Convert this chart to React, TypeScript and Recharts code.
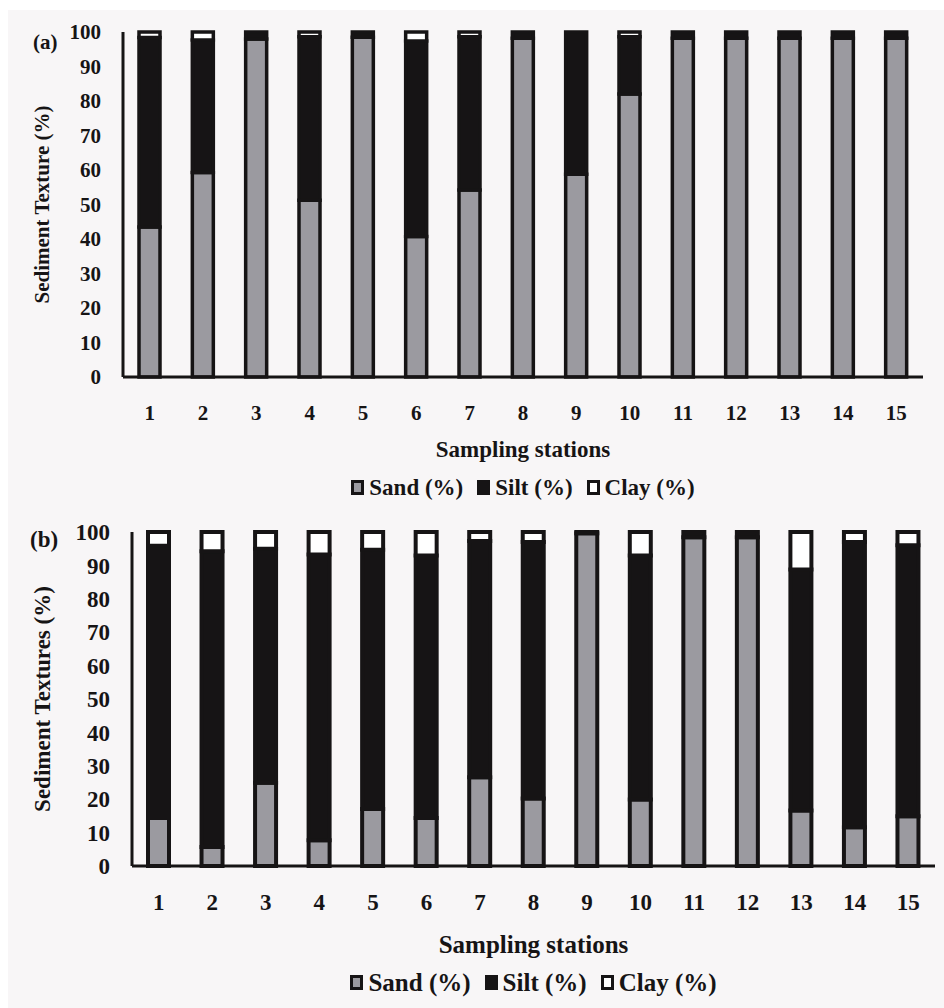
import React from 'react'
import { BarChart, Bar, XAxis, YAxis, Legend } from 'recharts'

const stations = ['1', '2', '3', '4', '5', '6', '7', '8', '9', '10', '11', '12', '13', '14', '15']
const yTicks = [0, 10, 20, 30, 40, 50, 60, 70, 80, 90, 100]

// panel (a)
const sandA = [43.5, 59.3, 98, 51.2, 98.5, 40.7, 54.2, 98.2, 58.8, 82, 98.2, 98.2, 98.2, 98.2, 98.2]
const siltA = [54.9, 38.4, 2, 47.4, 1.5, 56.7, 44.4, 1.8, 41.2, 16.6, 1.8, 1.8, 1.8, 1.8, 1.8]
const clayA = [1.6, 2.3, 0, 1.4, 0, 2.6, 1.4, 0, 0, 1.4, 0, 0, 0, 0, 0]

// panel (b)
const sandB = [14.4, 5.7, 24.9, 7.7, 17.1, 14.4, 26.6, 20.2, 99.6, 19.9, 98.4, 98.4, 16.6, 11.6, 14.9]
const siltB = [81.5, 88.5, 70.1, 85.6, 77.6, 78.6, 70.7, 76.8, 0.4, 73.1, 1.6, 1.6, 72.2, 85.4, 81.1]
const clayB = [4.1, 5.8, 5, 6.7, 5.3, 7, 2.7, 3, 0, 7, 0, 0, 11.2, 3, 4]

const SAND = '#9b9aa0'
const SILT = '#161415'
const CLAY = '#ffffff'
const INK = '#161415'
const BG = '#f8f6f7'
const FONT = '"Liberation Serif", "Times New Roman", serif'

const legendItems = [
  { name: 'Sand (%)', fill: SAND },
  { name: 'Silt (%)', fill: SILT },
  { name: 'Clay (%)', fill: CLAY },
]

function rows(sand: number[], silt: number[], clay: number[]) {
  return stations.map((s, i) => ({ station: s, sand: sand[i], silt: silt[i], clay: clay[i] }))
}

function TextureLegend({ fontSize }: { fontSize: number }) {
  return (
    <div
      style={{
        display: 'flex',
        justifyContent: 'center',
        alignItems: 'center',
        gap: 14,
        fontFamily: FONT,
        fontWeight: 700,
        fontSize,
        color: INK,
        lineHeight: 1,
      }}
    >
      {legendItems.map((it) => (
        <span key={it.name} style={{ display: 'inline-flex', alignItems: 'center', gap: 5 }}>
          <span
            style={{
              display: 'inline-block',
              boxSizing: 'border-box',
              width: 13,
              height: 15,
              border: `3px solid ${INK}`,
              background: it.fill,
            }}
          />
          {it.name}
        </span>
      ))}
    </div>
  )
}

function YTitle({ viewBox, value, titleX, fontSize }: any) {
  const cy = viewBox.y + viewBox.height / 2
  return (
    <text
      x={titleX}
      y={cy}
      transform={`rotate(-90, ${titleX}, ${cy})`}
      textAnchor="middle"
      dominantBaseline="central"
      fill={INK}
      fontFamily={FONT}
      fontWeight={700}
      fontSize={fontSize}
    >
      {value}
    </text>
  )
}

type PanelProps = {
  top: number
  height: number
  left: number
  right: number
  xAxisHeight: number
  tickSize: number
  titleSize: number
  tag: string
  tagTop: number
  tagLeft: number
  yTitle: string
  yTitleSize: number
  titleOffset: number
  legendTop: number
  strokeWidth: number
  data: { station: string; sand: number; silt: number; clay: number }[]
}

function Panel(p: PanelProps) {
  const tickStyle = { fill: INK, fontSize: p.tickSize, fontWeight: 700, fontFamily: FONT }
  const plotW = 944 - p.left - p.right
  return (
    <div style={{ position: 'absolute', top: p.top, left: 0, width: 944, height: p.height }}>
      <BarChart
        width={944}
        height={p.height}
        data={p.data}
        margin={{ top: 32, right: p.right, left: p.left - 80, bottom: 0 }}
        barCategoryGap={0}
      >
        <XAxis
          dataKey="station"
          height={p.xAxisHeight}
          axisLine={{ stroke: INK, strokeWidth: 3 }}
          tickLine={false}
          tickSize={6}
          tickMargin={22}
          tick={tickStyle}
          interval={0}
          label={{
            value: 'Sampling stations',
            position: 'insideTop',
            offset: p.titleOffset,
            fill: INK,
            fontSize: p.titleSize,
            fontWeight: 700,
            fontFamily: FONT,
          }}
        />
        <YAxis
          width={80}
          domain={[0, 100]}
          ticks={yTicks}
          interval={0}
          axisLine={{ stroke: INK, strokeWidth: 3 }}
          tickLine={false}
          tickSize={6}
          tickMargin={16}
          tick={tickStyle}
          label={<YTitle value={p.yTitle} titleX={42} fontSize={p.yTitleSize} />}
        />
        <Legend
          layout="horizontal"
          verticalAlign="middle"
          align="center"
          wrapperStyle={{ top: p.legendTop, left: p.left, width: plotW }}
          content={() => <TextureLegend fontSize={p.titleSize} />}
        />
        <Bar dataKey="sand" stackId="t" barSize={21} fill={SAND} stroke={INK} strokeWidth={p.strokeWidth} isAnimationActive={false} />
        <Bar dataKey="silt" stackId="t" barSize={21} fill={SILT} stroke={INK} strokeWidth={p.strokeWidth} isAnimationActive={false} />
        <Bar dataKey="clay" stackId="t" barSize={21} fill={CLAY} stroke={INK} strokeWidth={p.strokeWidth} isAnimationActive={false} />
      </BarChart>
      <div
        style={{
          position: 'absolute',
          top: p.tagTop,
          left: p.tagLeft,
          fontFamily: FONT,
          fontWeight: 700,
          fontSize: p.yTitleSize,
          lineHeight: 1,
          color: INK,
        }}
      >
        {p.tag}
      </div>
    </div>
  )
}

export default function App() {
  return (
    <div style={{ position: 'absolute', top: 0, left: 0, width: 944, height: 1008, background: '#ffffff', overflow: 'hidden' }}>
      <div style={{ position: 'absolute', top: 10, left: 8, right: 0, bottom: 0, background: BG }} />
      <Panel
        top={0}
        height={500}
        left={123}
        right={21}
        xAxisHeight={123}
        tickSize={21}
        titleSize={23}
        tag="(a)"
        tagTop={32}
        tagLeft={33}
        yTitle="Sediment Texture (%)"
        yTitleSize={21}
        titleOffset={64}
        legendTop={476}
        strokeWidth={3.5}
        data={rows(sandA, siltA, clayA)}
      />
      <Panel
        top={500}
        height={508}
        left={132}
        right={9}
        xAxisHeight={142}
        tickSize={23}
        titleSize={25}
        tag="(b)"
        tagTop={28}
        tagLeft={30}
        yTitle="Sediment Textures (%)"
        yTitleSize={23}
        titleOffset={69}
        legendTop={470}
        strokeWidth={4}
        data={rows(sandB, siltB, clayB)}
      />
    </div>
  )
}
